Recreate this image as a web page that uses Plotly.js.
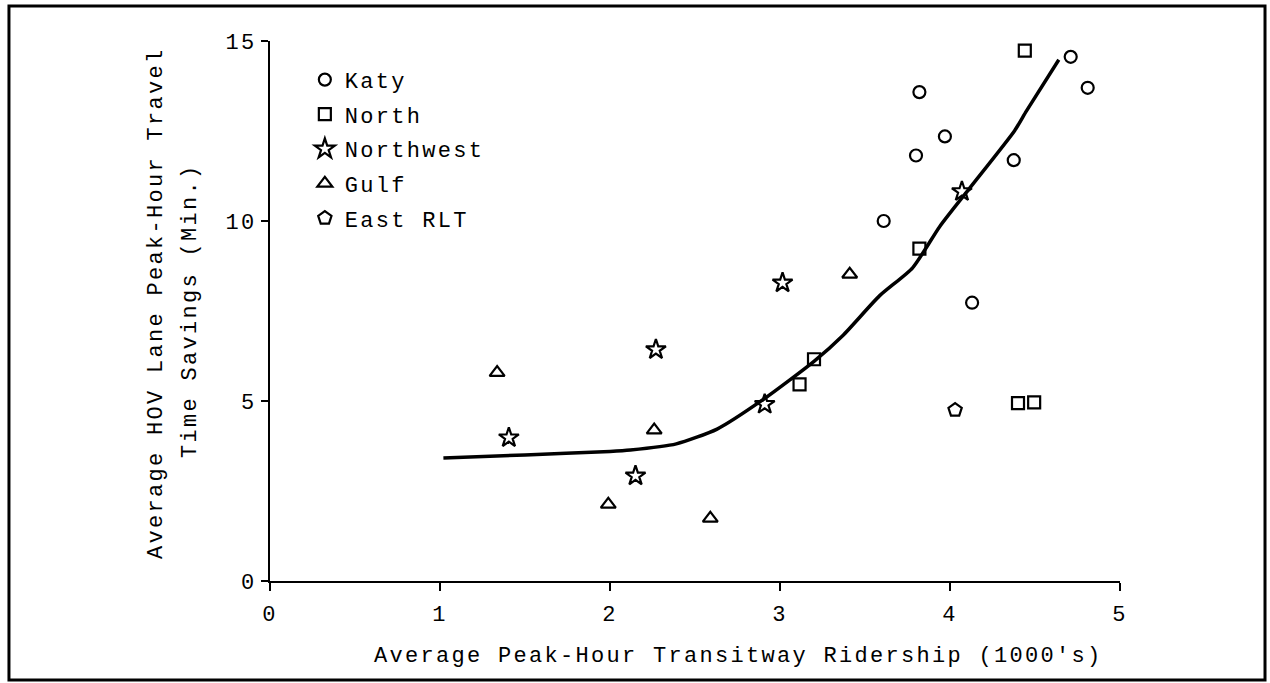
<!DOCTYPE html>
<html>
<head>
<meta charset="utf-8">
<script src="https://cdn.plot.ly/plotly-3.0.1.min.js"></script>
<style>
  html, body { margin: 0; padding: 0; background: #fff; }
  #chart { width: 1270px; height: 683px; }
  svg text { letter-spacing: 2.3px; }
</style>
</head>
<body>
<div id="chart"></div>
<script>
// Data
var katyX = [4.71, 4.81, 3.82, 3.97, 3.80, 4.375, 3.61, 4.13];
var katyY = [14.56, 13.70, 13.58, 12.35, 11.82, 11.69, 10.0, 7.73];

var northX = [4.44, 3.82, 3.20, 3.115, 4.40, 4.495];
var northY = [14.73, 9.23, 6.16, 5.46, 4.94, 4.96];

var northwestX = [4.07, 3.015, 2.27, 2.91, 2.15, 1.405];
var northwestY = [10.82, 8.28, 6.43, 4.91, 2.92, 3.98];

var gulfX = [1.336, 1.99, 2.26, 2.59, 3.41];
var gulfY = [5.79, 2.13, 4.19, 1.74, 8.52];

var eastX = [4.03];
var eastY = [4.75];

var fitX = [1.02, 1.5, 2.0, 2.12, 2.39, 2.63, 2.91, 3.20, 3.37, 3.585, 3.78, 3.94, 4.11, 4.38, 4.45, 4.64];
var fitY = [3.42, 3.50, 3.60, 3.64, 3.81, 4.22, 5.07, 6.10, 6.82, 7.92, 8.70, 9.85, 10.88, 12.51, 13.06, 14.48];

var xTickVals = [0, 1, 2, 3, 4, 5];
var yTickVals = [0, 5, 10, 15];

var seriesNames = ['Katy', 'North', 'Northwest', 'Gulf', 'East RLT'];

var FONT = '"Liberation Mono", "DejaVu Sans Mono", monospace';
var FS = 22;

function pts(name, xs, ys, symbol, size, grp) {
  return {
    type: 'scatter', mode: 'markers', name: name,
    x: xs, y: ys, legendgroup: grp, cliponaxis: false,
    marker: { symbol: symbol, size: size, color: '#000',
              line: { color: '#000', width: 2.2 } }
  };
}

var traces = [
  pts(seriesNames[0], katyX, katyY, 'circle-open', 12, 'g1'),
  pts(seriesNames[1], northX, northY, 'square-open', 12, 'g2'),
  pts(seriesNames[2], northwestX, northwestY, 'star-open', 15, 'g3'),
  pts(seriesNames[3], gulfX, gulfY, 'triangle-up-open', 13, 'g4'),
  pts(seriesNames[4], eastX, eastY, 'pentagon-open', 14, 'g5'),
  {
    type: 'scatter', mode: 'lines', name: 'fit', showlegend: false,
    x: fitX, y: fitY, cliponaxis: false,
    line: { color: '#000', width: 3.5, shape: 'spline', smoothing: 0.6 }
  }
];

var layout = {
  width: 1270, height: 683,
  margin: { l: 270, r: 150, t: 41, b: 102 },
  paper_bgcolor: '#fff', plot_bgcolor: '#fff',
  font: { family: FONT, size: FS, color: '#000' },
  showlegend: true,
  legend: {
    x: 0.041, y: 0.967, xanchor: 'left', yanchor: 'top',
    bgcolor: 'rgba(0,0,0,0)', borderwidth: 0,
    traceorder: 'grouped', tracegroupgap: 3,
    font: { family: FONT, size: FS, color: '#000' }
  },
  xaxis: {
    range: [0, 5], tickvals: xTickVals, ticktext: xTickVals.map(String),
    showgrid: false, zeroline: false, showline: true,
    linecolor: '#000', linewidth: 2,
    ticks: 'outside', ticklen: 8, tickwidth: 2, tickcolor: '#000',
    ticklabelstandoff: 4,
    tickfont: { family: FONT, size: FS, color: '#000' }
  },
  yaxis: {
    range: [0, 15], tickvals: yTickVals, ticktext: yTickVals.map(String),
    showgrid: false, zeroline: false, showline: true,
    linecolor: '#000', linewidth: 2,
    ticks: 'outside', ticklen: 7, tickwidth: 2, tickcolor: '#000',
    tickfont: { family: FONT, size: FS, color: '#000' }
  },
  annotations: [
    { xref: 'paper', yref: 'paper', x: 0.5506, y: -0.1407,
      xanchor: 'center', yanchor: 'middle', showarrow: false,
      text: "Average Peak-Hour Transitway Ridership (1000's)",
      font: { family: FONT, size: FS, color: '#000' } },
    { xref: 'paper', yref: 'paper', x: -0.1341, y: 0.5148,
      xanchor: 'center', yanchor: 'middle', showarrow: false, textangle: -90,
      text: 'Average HOV Lane Peak-Hour Travel',
      font: { family: FONT, size: FS, color: '#000' } },
    { xref: 'paper', yref: 'paper', x: -0.0941, y: 0.5,
      xanchor: 'center', yanchor: 'middle', showarrow: false, textangle: -90,
      text: 'Time Savings (Min.)',
      font: { family: FONT, size: FS, color: '#000' } }
  ],
  shapes: [
    { type: 'rect', xref: 'paper', yref: 'paper',
      x0: -0.3071, x1: 1.1706, y0: -0.1833, y1: 1.0648,
      line: { color: '#000', width: 3 }, fillcolor: 'rgba(0,0,0,0)' }
  ]
};

Plotly.newPlot('chart', traces, layout, { displayModeBar: false, staticPlot: true });
</script>
</body>
</html>
